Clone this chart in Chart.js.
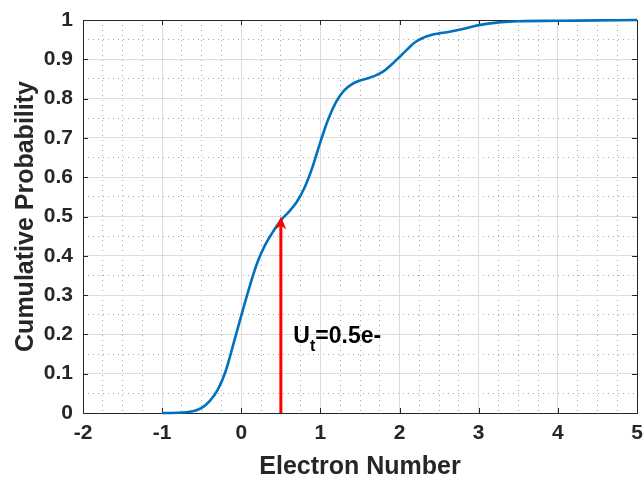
<!DOCTYPE html>
<html>
<head>
<meta charset="utf-8">
<script src="https://cdn.jsdelivr.net/npm/chart.js@4.4.1/dist/chart.umd.min.js"></script>
<style>
  html, body { margin: 0; padding: 0; background: #ffffff; }
  #wrap { width: 644px; height: 479px; }
</style>
</head>
<body>
<div id="wrap"><canvas id="c" width="644" height="479"></canvas></div>
<script>
// ---- data ----
const electronNumber = [-1, -0.9, -0.8, -0.7, -0.6, -0.5, -0.4, -0.3, -0.2, -0.1, 0, 0.1, 0.2, 0.3, 0.4, 0.5, 0.6, 0.7, 0.8, 0.9, 1.0, 1.1, 1.2, 1.3, 1.4, 1.5, 1.6, 1.7, 1.8, 1.9, 2.0, 2.1, 2.2, 2.3, 2.4, 2.5, 2.6, 2.8, 3.0, 3.25, 3.5, 4.0, 4.5, 5.0];
const cumulativeProb = [0, 0, 0.0005, 0.002, 0.005, 0.013, 0.03, 0.058, 0.105, 0.175, 0.248, 0.318, 0.381, 0.427, 0.461, 0.49, 0.512, 0.537, 0.574, 0.626, 0.69, 0.748, 0.792, 0.821, 0.837, 0.846, 0.852, 0.859, 0.87, 0.887, 0.906, 0.926, 0.944, 0.955, 0.962, 0.966, 0.969, 0.977, 0.987, 0.994, 0.997, 0.998, 0.999, 1.0];

const xTickValues = [-2, -1, 0, 1, 2, 3, 4, 5];
const xTickLabels = ['-2', '-1', '0', '1', '2', '3', '4', '5'];
const yTickValues = [0, 0.1, 0.2, 0.3, 0.4, 0.5, 0.6, 0.7, 0.8, 0.9, 1];
const yTickLabels = ['0', '0.1', '0.2', '0.3', '0.4', '0.5', '0.6', '0.7', '0.8', '0.9', '1'];
const xMinorStep = 0.25;
const yMinorStep = 0.05;

const arrowX = [0.5, 0.5];
const arrowY = [0, 0.5];
const annotationLabel = { main: 'U', sub: 't', rest: '=0.5e-', x: 0.658, y: 0.178 };

const xTitle = 'Electron Number';
const yTitle = 'Cumulative Probability';

// ---- styles ----
const FONT = 'Liberation Sans, Arial, Helvetica, sans-serif';
const TEXT = '#262626';
const AXIS = '#262626';

function isMajor(v, step) {
  return Math.abs(v / step - Math.round(v / step)) < 1e-6;
}

const boxPlugin = {
  id: 'boxPlugin',
  beforeDatasetsDraw(chart) {
    const { ctx, chartArea: a, scales } = chart;
    ctx.save();
    ctx.strokeStyle = AXIS;
    ctx.lineWidth = 1;
    ctx.strokeRect(Math.round(a.left) + 0.5, Math.round(a.top) + 0.5, Math.round(a.right - a.left), Math.round(a.bottom - a.top));
    const tl = 5;
    ctx.beginPath();
    xTickValues.forEach(v => {
      const px = Math.round(scales.x.getPixelForValue(v)) + 0.5;
      ctx.moveTo(px, a.bottom); ctx.lineTo(px, a.bottom - tl);
      ctx.moveTo(px, a.top); ctx.lineTo(px, a.top + tl);
    });
    yTickValues.forEach(v => {
      const py = Math.round(scales.y.getPixelForValue(v)) + 0.5;
      ctx.moveTo(a.left, py); ctx.lineTo(a.left + tl, py);
      ctx.moveTo(a.right, py); ctx.lineTo(a.right - tl, py);
    });
    ctx.stroke();
    ctx.restore();
  },
  afterDatasetsDraw(chart) {
    const { ctx, scales } = chart;
    const x0 = scales.x.getPixelForValue(arrowX[0]);
    const y0 = scales.y.getPixelForValue(arrowY[0]);
    const x1 = scales.x.getPixelForValue(arrowX[1]);
    const y1 = scales.y.getPixelForValue(arrowY[1]);
    ctx.save();
    ctx.strokeStyle = '#ff0000';
    ctx.fillStyle = '#ff0000';
    ctx.lineWidth = 3;
    const headLen = 13, headHalf = 5.5, notch = 4;
    ctx.beginPath();
    ctx.moveTo(x0, y0);
    ctx.lineTo(x1, y1 + headLen - notch);
    ctx.stroke();
    ctx.beginPath();
    ctx.moveTo(x1, y1);
    ctx.lineTo(x1 + headHalf, y1 + headLen);
    ctx.lineTo(x1, y1 + headLen - notch);
    ctx.lineTo(x1 - headHalf, y1 + headLen);
    ctx.closePath();
    ctx.fill();

    // annotation text
    const tx = scales.x.getPixelForValue(annotationLabel.x);
    const ty = scales.y.getPixelForValue(annotationLabel.y);
    ctx.fillStyle = '#000000';
    ctx.textBaseline = 'alphabetic';
    ctx.textAlign = 'left';
    ctx.font = 'bold 23px ' + FONT;
    ctx.fillText(annotationLabel.main, tx, ty);
    let w = ctx.measureText(annotationLabel.main).width;
    ctx.font = 'bold 16px ' + FONT;
    ctx.fillText(annotationLabel.sub, tx + w, ty + 8);
    w += ctx.measureText(annotationLabel.sub).width;
    ctx.font = 'bold 23px ' + FONT;
    ctx.fillText(annotationLabel.rest, tx + w, ty);
    ctx.restore();
  }
};

const tickFont = { family: FONT, size: 21, weight: 'bold' };
const titleFont = { family: FONT, size: 25, weight: 'bold', lineHeight: 0.92 };

new Chart(document.getElementById('c'), {
  type: 'line',
  data: {
    datasets: [{
      data: electronNumber.map((x, i) => ({ x: x, y: cumulativeProb[i] })),
      borderColor: '#0072BD',
      borderWidth: 2.6,
      pointRadius: 0,
      fill: false,
      tension: 0.4,
      clip: 4,
      xAxisID: 'x',
      yAxisID: 'y'
    }]
  },
  options: {
    responsive: false,
    animation: false,
    layout: { padding: { left: 0, right: 7, top: 20, bottom: 0 } },
    plugins: { legend: { display: false }, tooltip: { enabled: false } },
    scales: {
      xm: {
        type: 'linear', min: -2, max: 5, position: 'bottom',
        ticks: { display: false, stepSize: xMinorStep },
        grid: {
          drawTicks: false,
          color: ctx => isMajor(ctx.tick.value, 1) ? 'rgba(0,0,0,0)' : '#a8a8a8'
        },
        border: { display: false, dash: [1, 4] },
        afterFit: s => { s.height = 0; s.paddingLeft = 0; s.paddingRight = 0; }
      },
      ym: {
        type: 'linear', min: 0, max: 1, position: 'left',
        ticks: { display: false, stepSize: yMinorStep },
        grid: {
          drawTicks: false,
          color: ctx => isMajor(ctx.tick.value, 0.1) ? 'rgba(0,0,0,0)' : '#a8a8a8'
        },
        border: { display: false, dash: [1, 4] },
        afterFit: s => { s.width = 0; s.paddingTop = 0; s.paddingBottom = 0; }
      },
      x: {
        type: 'linear', min: -2, max: 5, position: 'bottom',
        afterBuildTicks: s => { s.ticks = xTickValues.map(v => ({ value: v })); },
        ticks: {
          font: tickFont, color: TEXT, padding: 8, maxRotation: 0, autoSkip: false,
          callback: (v, i) => xTickLabels[i]
        },
        grid: { color: '#dcdcdc', drawTicks: false },
        border: { display: false },
        title: { display: true, text: xTitle, font: titleFont, color: TEXT, padding: { top: 0, bottom: 0 } },
        afterFit: s => { s.height = 66; s.paddingLeft = 0; s.paddingRight = 0; }
      },
      y: {
        type: 'linear', min: 0, max: 1, position: 'left',
        afterBuildTicks: s => { s.ticks = yTickValues.map(v => ({ value: v })); },
        ticks: {
          font: tickFont, color: TEXT, padding: 10, autoSkip: false,
          callback: (v, i) => yTickLabels[i]
        },
        grid: { color: '#dcdcdc', drawTicks: false },
        border: { display: false },
        title: { display: true, text: yTitle, font: titleFont, color: TEXT, padding: { top: 15, bottom: 0 } },
        afterFit: s => { s.width = 83; s.paddingTop = 0; s.paddingBottom = 0; }
      }
    }
  },
  plugins: [boxPlugin]
});
</script>
</body>
</html>
